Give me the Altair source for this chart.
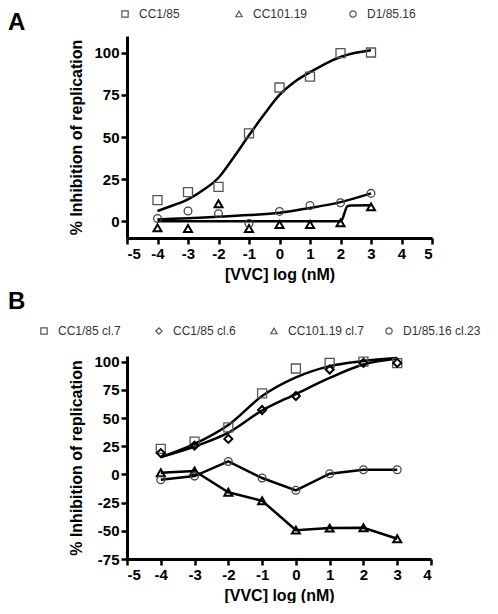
import altair as alt
import pandas as pd

# ---------------- data ----------------
conc = [-4, -3, -2, -1, 0, 1, 2, 3]

# Panel A
a_series = ["CC1/85", "CC101.19", "D1/85.16"]
a_cc185 = [12.5, 17.3, 20.4, 52.2, 79.4, 85.9, 99.8, 100.2]
a_cc10119 = [-4.0, -4.4, 10.3, -4.4, -2.0, -2.0, -1.0, 8.5]
a_d18516 = [1.6, 6.0, 4.4, -1.4, 5.8, 9.3, 10.9, 16.5]

a_fit_cc185_x = [-4, -3.5, -3, -2.5, -2, -1.5, -1, -0.5, 0, 0.5, 1, 1.5, 2, 2.5, 3]
a_fit_cc185_y = [6.0, 9.3, 13.0, 18.5, 25.8, 38.0, 51.0, 63.5, 75.0, 82.8, 88.5, 93.5, 97.5, 100.0, 101.6]
a_fit_cc10119_x = [-4, 2.0, 2.08, 2.15, 2.22, 2.35, 3]
a_fit_cc10119_y = [0.0, 0.0, 2.0, 6.0, 8.8, 9.3, 9.4]
a_fit_d18516_x = [-4, -3, -2, -1, 0, 1, 2, 3]
a_fit_d18516_y = [1.0, 1.8, 2.6, 3.6, 5.0, 7.8, 11.3, 16.5]

# Panel B
b_series = ["CC1/85 cl.7", "CC1/85 cl.6", "CC101.19 cl.7", "D1/85.16 cl.23"]
b_cc185_7 = [22.7, 29.1, 41.8, 71.8, 93.9, 98.9, 100.0, 98.6]
b_cc185_6 = [18.9, 25.6, 31.5, 57.1, 69.5, 93.0, 98.9, 98.9]
b_cc10119_7 = [1.5, 3.0, -15.8, -23.4, -49.4, -47.6, -47.3, -57.0]
b_d18516_23 = [-4.7, -1.5, 11.5, -3.2, -14.1, 0.6, 4.1, 4.1]

b_fit_x = [-4, -3, -2, -1, 0, 1, 2, 3]
b_fit_cc185_7 = [15.3, 27.0, 43.8, 69.5, 86.0, 96.0, 100.5, 103.2]
b_fit_cc185_6 = [15.3, 24.7, 37.0, 56.7, 71.3, 85.6, 97.4, 102.7]

# ---------------- tables ----------------
def table(xs, ys, name):
    return pd.DataFrame({"x": xs, "y": ys, "series": name})

fitA = pd.concat([
    table(a_fit_cc185_x, a_fit_cc185_y, a_series[0]),
    table(a_fit_cc10119_x, a_fit_cc10119_y, a_series[1]),
    table(a_fit_d18516_x, a_fit_d18516_y, a_series[2]),
])
ptsA = [table(conc, v, n) for v, n in zip([a_cc185, a_cc10119, a_d18516], a_series)]

fitB = pd.concat([
    table(b_fit_x, b_fit_cc185_7, b_series[0]),
    table(b_fit_x, b_fit_cc185_6, b_series[1]),
])
ptsB = [table(conc, v, n) for v, n in zip([b_cc185_7, b_cc185_6, b_cc10119_7, b_d18516_23], b_series)]
segB = pd.concat(ptsB[2:])

FONT = "Liberation Sans"

def axis(values, title_pad):
    return alt.Axis(values=values, grid=False, labelExpr="'' + datum.value",
                    domainColor="black", domainWidth=3,
                    tickColor="black", tickWidth=2.5, tickSize=6,
                    labelFont=FONT, labelFontSize=15, labelFontWeight="bold",
                    labelColor="black", labelPadding=2,
                    titleFont=FONT, titleFontSize=16, titleFontWeight="bold",
                    titleColor="black", titlePadding=title_pad)

def enc_x(dom, vals):
    return alt.X("x:Q", scale=alt.Scale(domain=dom, nice=False, zero=False),
                 axis=axis(vals, 5), title="[VVC] log (nM)")

def enc_y(dom, vals):
    return alt.Y("y:Q", scale=alt.Scale(domain=dom, nice=False, zero=False),
                 axis=axis(vals, 9), title="% Inhibition of replication")

def legend(x, y, cols, pad, grid):
    return alt.Legend(title=None, orient="none", legendX=x, legendY=y,
                      direction="horizontal", columns=cols, gridAlign=grid,
                      columnPadding=pad, labelFont=FONT, labelFontSize=12,
                      labelColor="#333", labelOffset=8, symbolSize=40,
                      symbolStrokeColor="#555", symbolStrokeWidth=1.2,
                      symbolFillColor="transparent")

def panel(pts, fits, segs, names, shapes, strokes, widths, sizes,
          xdom, xvals, ydom, yvals, w, h, leg, letter, lx, ly):
    X = enc_x(xdom, xvals)
    Y = enc_y(ydom, yvals)
    shape_scale = alt.Scale(domain=names, range=shapes)
    layers = [alt.Chart(fits).mark_line(interpolate="monotone", color="black",
                                        strokeWidth=2.5).encode(x=X, y=Y, detail="series:N")]
    if segs is not None:
        layers.append(alt.Chart(segs).mark_line(color="black", strokeWidth=2.5)
                      .encode(x=X, y=Y, detail="series:N"))
    for i, df in enumerate(pts):
        layers.append(alt.Chart(df).mark_point(
            filled=False, opacity=1, color=strokes[i], strokeWidth=widths[i], size=sizes[i]
        ).encode(x=X, y=Y,
                 shape=alt.Shape("series:N", scale=shape_scale,
                                 legend=leg if i == 0 else None)))
    layers.append(alt.Chart(pd.DataFrame({"t": [letter]})).mark_text(
        font=FONT, fontSize=24, fontWeight="bold", color="black", align="left",
        baseline="top").encode(text="t:N", x=alt.value(lx), y=alt.value(ly)))
    return alt.layer(*layers).properties(width=w, height=h)

panelA = panel(ptsA, fitA, None, a_series,
               ["square", "triangle-up", "circle"], ["#555", "#000", "#444"],
               [1.3, 2.0, 1.3], [81, 64, 60],
               [-5, 5], list(range(-5, 6)), [-10, 110], [0, 25, 50, 75, 100],
               305, 202, legend(-8, -28, 3, 39, "all"), "A", -119, -25)

panelB = panel(ptsB, fitB, segB, b_series,
               ["square", "diamond", "triangle-up", "circle"], ["#555", "#000", "#000", "#444"],
               [1.3, 2.0, 2.0, 1.3], [81, 64, 64, 60],
               [-5, 4], list(range(-5, 5)), [-75, 105], [-75, -50, -25, 0, 25, 50, 75, 100],
               304, 203, legend(-89, -31, 4, 17, "all"), "B", -119, -66)

chart = alt.vconcat(panelA, panelB, spacing=118, bounds="flush").resolve_scale(
    x="independent", y="independent", shape="independent").resolve_legend(
    shape="independent").properties(
    padding={"left": 0, "top": 0, "right": 0, "bottom": 0}
).configure_view(stroke=None)

chart.save("out.html", embed_options={"renderer": "svg", "actions": False})
